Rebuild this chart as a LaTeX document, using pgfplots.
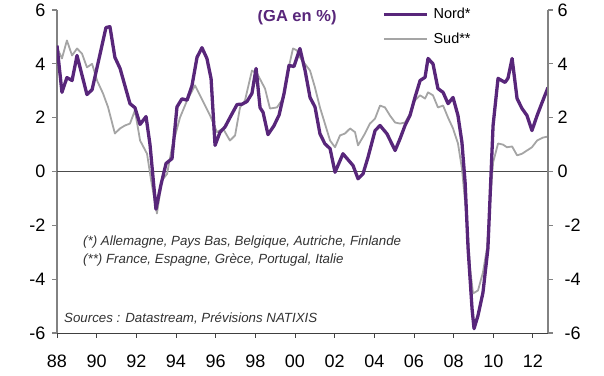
\documentclass[border=0pt]{standalone}
\usepackage{fontspec}
\setmainfont{Liberation Sans}
\usepackage{pgfplots}
\pgfplotsset{compat=1.18}
\definecolor{nord}{RGB}{88,38,122}
\definecolor{sud}{RGB}{165,165,165}
\definecolor{axgray}{RGB}{130,130,130}
\definecolor{txt}{RGB}{50,50,50}
\pgfplotsset{
  common/.style={
    scale only axis, width=491bp, height=323bp,
    xmin=88, xmax=112.76, ymin=-6, ymax=6,
    tick align=outside, major tick length=4.5bp,
    ytick={-6,-4,-2,0,2,4,6},
    /pgf/number format/assume math mode=true,
    ticklabel style={font=\fontsize{18bp}{18bp}\selectfont, text=black, inner sep=0pt},
  }
}
\begin{document}
\begin{tikzpicture}
\begin{axis}[common,
  axis x line*=bottom, axis y line*=left,
  x axis line style={black!75, line width=0.9bp},
  y axis line style={axgray, line width=1.2bp},
  xtick style={black!75, line width=0.9bp},
  ytick style={axgray, line width=1.2bp},
  xtick={88,90,...,112},
  xticklabels={88,90,92,94,96,98,00,02,04,06,08,10,12},
  yticklabels={-6,-4,-2,0,2,4,6},
  yticklabel style={anchor=east, xshift=-7bp},
  xticklabel style={anchor=north, yshift=-17bp},
  legend style={at={(0.662,1.006)}, anchor=north west, draw=none, fill=none,
    inner sep=0pt, row sep=13bp, column sep=5bp,
    font=\fontsize{14.5bp}{14.5bp}\selectfont,
    nodes={inner sep=0pt, anchor=west, text=black}},
  legend cell align=left,
  reverse legend,
  legend image code/.code={\draw[#1] (0bp,0bp) -- (43bp,0bp);},
]
\draw[black!70, line width=0.9bp] (rel axis cs:0,0.5) -- (rel axis cs:1,0.5);
\addplot[sud, line width=1.8bp, line join=round] coordinates {
(88.00,4.6) (88.25,4.2) (88.50,4.87) (88.76,4.31) (89.01,4.57) (89.26,4.38) (89.51,3.87) (89.77,4.0) (90.02,3.38) (90.32,2.9) (90.57,2.4) (90.92,1.41) (91.18,1.6) (91.43,1.71) (91.68,1.78) (91.93,2.27) (92.19,1.15) (92.54,0.66) (92.74,-0.3) (93.04,-1.56) (93.29,-0.33) (93.55,-0.09) (93.80,0.9) (94.20,2.0) (94.56,2.64) (94.96,3.2) (95.21,2.83) (95.72,2.08) (96.07,1.46) (96.37,1.6) (96.72,1.15) (96.98,1.34) (97.23,2.38) (97.48,2.64) (97.83,3.75) (98.09,3.64) (98.49,3.08) (98.74,2.34) (99.09,2.38) (99.40,2.71) (99.65,3.75) (99.90,4.57) (100.10,4.5) (100.25,4.24) (100.76,3.75) (101.01,3.12) (101.26,2.38) (101.51,1.78) (101.77,1.15) (102.02,0.9) (102.27,1.34) (102.52,1.41) (102.78,1.6) (103.03,1.46) (103.18,0.97) (103.53,1.41) (103.78,1.78) (104.04,1.97) (104.29,2.45) (104.54,2.38) (104.79,2.08) (105.05,1.82) (105.30,1.78) (105.55,1.82) (105.80,2.15) (106.05,2.64) (106.31,2.83) (106.56,2.71) (106.71,2.94) (106.96,2.83) (107.21,2.38) (107.47,2.45) (107.72,2.0) (107.97,1.6) (108.22,1.04) (108.42,0.11) (108.68,-1.9) (108.83,-3.6) (108.98,-4.53) (109.23,-4.42) (109.48,-3.75) (109.68,-2.86) (109.84,-1.15) (109.99,0.33) (110.24,1.04) (110.49,1.0) (110.69,0.9) (110.95,0.93) (111.20,0.6) (111.45,0.66) (111.70,0.78) (111.95,0.9) (112.21,1.15) (112.51,1.26) (112.76,1.3)
};
\addlegendentry{Sud**}
\addplot[nord, line width=3.3bp, line join=round] coordinates {
(88.00,4.68) (88.25,2.94) (88.50,3.49) (88.76,3.38) (89.01,4.31) (89.51,2.86) (89.77,3.04) (90.47,5.35) (90.67,5.38) (90.92,4.24) (91.18,3.83) (91.68,2.52) (91.93,2.37) (92.19,1.75) (92.49,2.04) (92.69,1.0) (92.99,-1.4) (93.24,-0.5) (93.50,0.3) (93.80,0.48) (94.05,2.4) (94.30,2.7) (94.56,2.65) (94.81,3.2) (95.06,4.24) (95.31,4.6) (95.56,4.2) (95.77,3.45) (95.97,0.97) (96.22,1.46) (96.47,1.65) (96.72,2.0) (97.08,2.49) (97.33,2.5) (97.58,2.6) (97.83,2.9) (98.04,3.83) (98.24,2.37) (98.39,2.2) (98.64,1.37) (98.94,1.7) (99.20,2.1) (99.45,2.9) (99.70,3.94) (99.95,3.9) (100.25,4.57) (100.51,3.75) (100.76,2.75) (101.01,2.4) (101.26,1.4) (101.51,1.03) (101.77,0.85) (102.02,-0.03) (102.42,0.66) (102.93,0.22) (103.18,-0.27) (103.43,-0.09) (103.68,0.52) (104.04,1.52) (104.29,1.71) (104.64,1.4) (105.05,0.78) (105.30,1.22) (105.55,1.71) (105.80,2.08) (106.05,2.75) (106.31,3.38) (106.56,3.5) (106.71,4.2) (106.96,4.0) (107.21,3.08) (107.47,2.94) (107.72,2.52) (107.97,2.75) (108.22,2.08) (108.42,1.08) (108.58,-0.41) (108.73,-2.86) (108.93,-5.1) (109.03,-5.84) (109.23,-5.35) (109.48,-4.5) (109.73,-2.86) (109.99,1.71) (110.24,3.46) (110.59,3.31) (110.74,3.46) (110.95,4.2) (111.20,2.71) (111.45,2.34) (111.70,2.08) (111.95,1.52) (112.21,2.08) (112.46,2.56) (112.76,3.12)
};
\addlegendentry{Nord*}
\node[anchor=center, text=nord, font=\bfseries\fontsize{16.5bp}{16.5bp}\selectfont, inner sep=0pt] at (rel axis cs:0.489,0.978) {(GA en \%)};
\node[anchor=base west, text=txt, font=\itshape\fontsize{13.3bp}{13.3bp}\selectfont, inner sep=0pt] at (rel axis cs:0.053,0.2724) {(*) Allemagne, Pays Bas, Belgique, Autriche, Finlande};
\node[anchor=base west, text=txt, font=\itshape\fontsize{13.3bp}{13.3bp}\selectfont, inner sep=0pt] at (rel axis cs:0.053,0.2167) {(**) France, Espagne, Grèce, Portugal, Italie};
\node[anchor=base west, text=txt, font=\itshape\fontsize{13.3bp}{13.3bp}\selectfont, inner sep=0pt] at (rel axis cs:0.0143,0.034) {Sources : Datastream, Prévisions NATIXIS};
\end{axis}
\begin{axis}[common,
  axis x line=none, axis y line*=right,
  y axis line style={axgray, line width=1.2bp},
  ytick style={axgray, line width=1.2bp},
  yticklabels={\hspace*{7bp}-6,\hspace*{7bp}-4,\hspace*{7bp}-2,0,2,4,6},
  yticklabel style={anchor=west, xshift=5bp},
]
\end{axis}
\path (current axis.south west) ++(-57bp,-43bp) rectangle ++(604bp,376bp);
\end{tikzpicture}
\end{document}
